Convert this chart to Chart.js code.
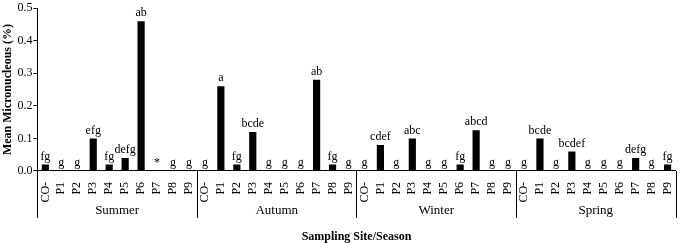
<!DOCTYPE html>
<html>
<head>
<meta charset="utf-8">
<script src="https://cdn.jsdelivr.net/npm/chart.js@4/dist/chart.umd.min.js"></script>
<style>
  html, body { margin: 0; padding: 0; background: #fff; }
  #wrap { position: relative; width: 685px; height: 243px; }
</style>
</head>
<body>
<div id="wrap"><canvas id="chart"></canvas></div>
<script>
// sites and seasons
const sites = ["CO-", "P1", "P2", "P3", "P4", "P5", "P6", "P7", "P8", "P9"];
const seasons = ["Summer", "Autumn", "Winter", "Spring"];

// mean micronucleus (%) per site, one array per season
const summerVals = [0.02, 0, 0, 0.10, 0.02, 0.04, 0.46, 0, 0, 0];
const autumnVals = [0, 0.26, 0.02, 0.12, 0, 0, 0, 0.28, 0.02, 0];
const winterVals = [0, 0.08, 0, 0.10, 0, 0, 0.02, 0.125, 0, 0];
const springVals = [0, 0.10, 0, 0.06, 0, 0, 0, 0.04, 0, 0.02];

// significance letters above bars
const summerTags = ["fg", "g", "g", "efg", "fg", "defg", "ab", "*", "g", "g"];
const autumnTags = ["g", "a", "fg", "bcde", "g", "g", "g", "ab", "fg", "g"];
const winterTags = ["g", "cdef", "g", "abc", "g", "g", "fg", "abcd", "g", "g"];
const springTags = ["g", "bcde", "g", "bcdef", "g", "g", "g", "defg", "g", "fg"];

const yTicks = [0, 0.1, 0.2, 0.3, 0.4, 0.5];

const labels = [];
seasons.forEach(() => sites.forEach(s => labels.push(s)));
const values = [].concat(summerVals, autumnVals, winterVals, springVals);
const tags = [].concat(summerTags, autumnTags, winterTags, springTags);

const serif = "'Liberation Serif', 'Times New Roman', serif";

// letters over bars + season groups under the axis
const extras = {
  id: "extras",
  afterDatasetsDraw(chart) {
    const ctx = chart.ctx;
    const meta = chart.getDatasetMeta(0);
    const x = chart.scales.x;
    const area = chart.chartArea;
    ctx.save();
    ctx.fillStyle = "#000";
    ctx.font = "12px " + serif;
    ctx.textAlign = "center";
    ctx.textBaseline = "bottom";
    meta.data.forEach((bar, i) => {
      ctx.fillText(tags[i], bar.x, bar.y - 2);
    });

    // season separators
    const step = x.getPixelForValue(1) - x.getPixelForValue(0);
    ctx.strokeStyle = "#000";
    ctx.lineWidth = 1;
    for (let g = 0; g <= seasons.length; g++) {
      const px = Math.round(x.getPixelForValue(g * sites.length) - step / 2) + 0.5;
      ctx.beginPath();
      ctx.moveTo(px, area.bottom);
      ctx.lineTo(px, area.bottom + 47);
      ctx.stroke();
    }
    ctx.font = "13px " + serif;
    ctx.textBaseline = "middle";
    seasons.forEach((s, g) => {
      const a = x.getPixelForValue(g * sites.length) - step / 2;
      const b = x.getPixelForValue((g + 1) * sites.length - 1) + step / 2;
      ctx.fillText(s, (a + b) / 2, area.bottom + 40);
    });
    ctx.restore();
  }
};

new Chart(document.getElementById("chart"), {
  type: "bar",
  data: {
    labels: labels,
    datasets: [{
      data: values,
      backgroundColor: "#000",
      borderWidth: 0,
      barPercentage: 0.45,
      categoryPercentage: 1.0,
    }],
  },
  options: {
    responsive: true,
    maintainAspectRatio: false,
    animation: false,
    layout: { padding: { top: 4, right: 2, left: 1, bottom: -1 } },
    plugins: {
      legend: { display: false },
      tooltip: { enabled: false },
    },
    scales: {
      x: {
        grid: { display: false },
        border: { display: true, color: "#000", width: 1 },
        ticks: {
          color: "#000",
          font: { family: serif, size: 12 },
          minRotation: 90,
          maxRotation: 90,
          autoSkip: false,
          padding: 3,
        },
        title: {
          display: true,
          text: "Sampling Site/Season",
          color: "#000",
          font: { family: serif, size: 12, weight: "bold" },
          padding: { top: 24, bottom: 0 },
        },
      },
      y: {
        min: 0,
        max: 0.5,
        afterBuildTicks(scale) {
          scale.ticks = yTicks.map(v => ({ value: v }));
        },
        grid: {
          drawOnChartArea: false,
          drawTicks: true,
          tickLength: 4,
          color: "#000",
        },
        border: { display: true, color: "#000", width: 1 },
        ticks: {
          color: "#000",
          font: { family: serif, size: 12 },
          padding: 1,
          callback: v => Number(v).toFixed(1),
        },
        title: {
          display: true,
          text: "Mean Micronucleous (%)",
          color: "#000",
          font: { family: serif, size: 12, weight: "bold" },
          padding: { top: 0, bottom: 1 },
        },
      },
    },
  },
  plugins: [extras],
});
</script>
</body>
</html>
